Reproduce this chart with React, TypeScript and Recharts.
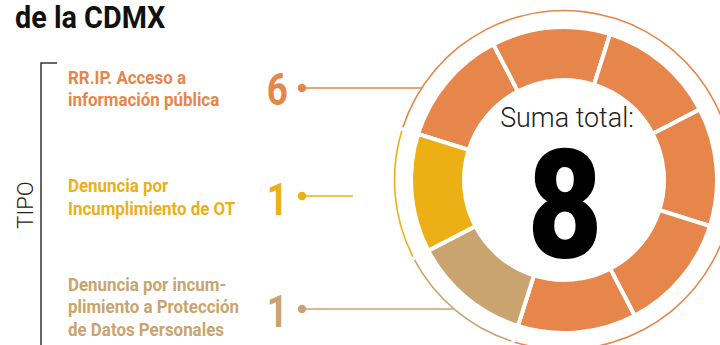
import React from "react";
import { PieChart, Pie, Cell } from "recharts";

// ---- data ----
const TITLE = "de la CDMX";
const AXIS_LABEL = "TIPO";
const TOTAL_LABEL = "Suma total:";
const CATEGORIES = [
  "RR.IP. Acceso a información pública",
  "Denuncia por Incumplimiento de OT",
  "Denuncia por incumplimiento a Protección de Datos Personales",
];
const LABEL_LINES = [
  ["RR.IP. Acceso a", "información pública"],
  ["Denuncia por", "Incumplimiento de OT"],
  ["Denuncia por incum-", "plimiento a Protección", "de Datos Personales"],
];
const COUNTS = [6, 1, 1];

// ---- styles / layout ----
const COLORS = ["#E6864A", "#EDB014", "#C9A46E"];
const RING_ORDER = [0, 2, 1]; // clockwise order around the donut
const CX = 564;
const CY = 180;
const START = 162.5;
const SEG_DEG = 360 / COUNTS.reduce((a, b) => a + b, 0);
const THIN_R = 169.5;
const LABEL_X = 68;
const LABEL_BASE = [84, 192, 291];
const LABEL_LH = [22, 23, 22.5];
const NUM_BASE = [105, 215, 327];
const DOT_Y = [88, 196, 309];
const DOT_X = 302;
const LINE_END = [null, 353, null];

const total = COUNTS.reduce((a, b) => a + b, 0);

const segments = RING_ORDER.flatMap((ci) =>
  Array.from({ length: COUNTS[ci] }, (_, k) => ({
    name: CATEGORIES[ci] + " " + (k + 1),
    value: 1,
    ci,
  }))
);

const thinArcs = (() => {
  let cum = 0;
  return RING_ORDER.map((ci) => {
    const s = START - cum * SEG_DEG - 0.6;
    cum += COUNTS[ci];
    const e = START - cum * SEG_DEG + 0.6;
    return { ci, s, e, data: [{ name: CATEGORIES[ci], value: COUNTS[ci] }] };
  });
})();

const ringX = (y: number) => CX - Math.sqrt(THIN_R * THIN_R - (y - CY) * (y - CY));

export default function App() {
  return (
    <div style={{ position: "absolute", left: 0, top: 0, width: 720, height: 345, background: "#fff" }}>
      <PieChart width={720} height={345} margin={{ top: 0, right: 0, bottom: 0, left: 0 }}>
        {thinArcs.map((a) => (
          <Pie
            key={"thin" + a.ci}
            data={a.data}
            dataKey="value"
            cx={CX}
            cy={CY}
            innerRadius={THIN_R - 0.8}
            outerRadius={THIN_R + 0.8}
            startAngle={a.s}
            endAngle={a.e}
            stroke="none"
            fill={COLORS[a.ci]}
            isAnimationActive={false}
          />
        ))}
        <Pie
          data={segments}
          dataKey="value"
          cx={CX}
          cy={CY}
          innerRadius={100}
          outerRadius={153}
          startAngle={START}
          endAngle={START - 360}
          stroke="#fff"
          strokeWidth={4}
          isAnimationActive={false}
        >
          {segments.map((s, i) => (
            <Cell key={i} fill={COLORS[s.ci]} stroke="#fff" strokeWidth={4} />
          ))}
        </Pie>

        {/* title */}
        <text
          transform="translate(15,28) scale(0.9,1)"
          fontFamily="Roboto"
          fontWeight={700}
          fontSize={32}
          fill="#111"
        >
          {TITLE}
        </text>

        {/* bracket */}
        <path d="M57,63 L41,63 L41,345" fill="none" stroke="#333" strokeWidth={1.5} />
        <text
          transform="translate(33,205) rotate(-90)"
          textAnchor="middle"
          fontFamily="Roboto"
          fontWeight={300}
          fontSize={22}
          fill="#222"
        >
          {AXIS_LABEL}
        </text>

        {/* labels */}
        {LABEL_LINES.map((lines, i) => (
          <g key={"lab" + i}>
            <text
              transform={`translate(${LABEL_X},${LABEL_BASE[i]}) scale(0.94,1)`}
              fontFamily="Roboto"
              fontWeight={700}
              fontSize={18}
              fill={COLORS[i]}
            >
              {lines.map((l, j) => (
                <tspan key={j} x={0} y={j * LABEL_LH[i]}>
                  {l}
                </tspan>
              ))}
            </text>
            <text
              transform={`translate(288,${NUM_BASE[i]}) scale(0.82,1)`}
              textAnchor="end"
              fontFamily="Roboto"
              fontWeight={700}
              fontSize={45}
              fill={COLORS[i]}
            >
              {COUNTS[i]}
            </text>
            <circle cx={DOT_X} cy={DOT_Y[i]} r={4.2} fill={COLORS[i]} />
            <line
              x1={DOT_X}
              y1={DOT_Y[i]}
              x2={LINE_END[i] ?? ringX(DOT_Y[i])}
              y2={DOT_Y[i]}
              stroke={COLORS[i]}
              strokeWidth={1.6}
            />
          </g>
        ))}

        {/* center */}
        <text
          transform={`translate(567,127) scale(0.96,1)`}
          textAnchor="middle"
          fontFamily="Roboto"
          fontWeight={300}
          fontSize={28}
          fill="#222"
        >
          {TOTAL_LABEL}
        </text>
        <text
          transform={`translate(565,258) scale(0.85,1)`}
          textAnchor="middle"
          fontFamily="Roboto"
          fontWeight={900}
          fontSize={152}
          fill="#000"
        >
          {total}
        </text>
      </PieChart>
    </div>
  );
}
